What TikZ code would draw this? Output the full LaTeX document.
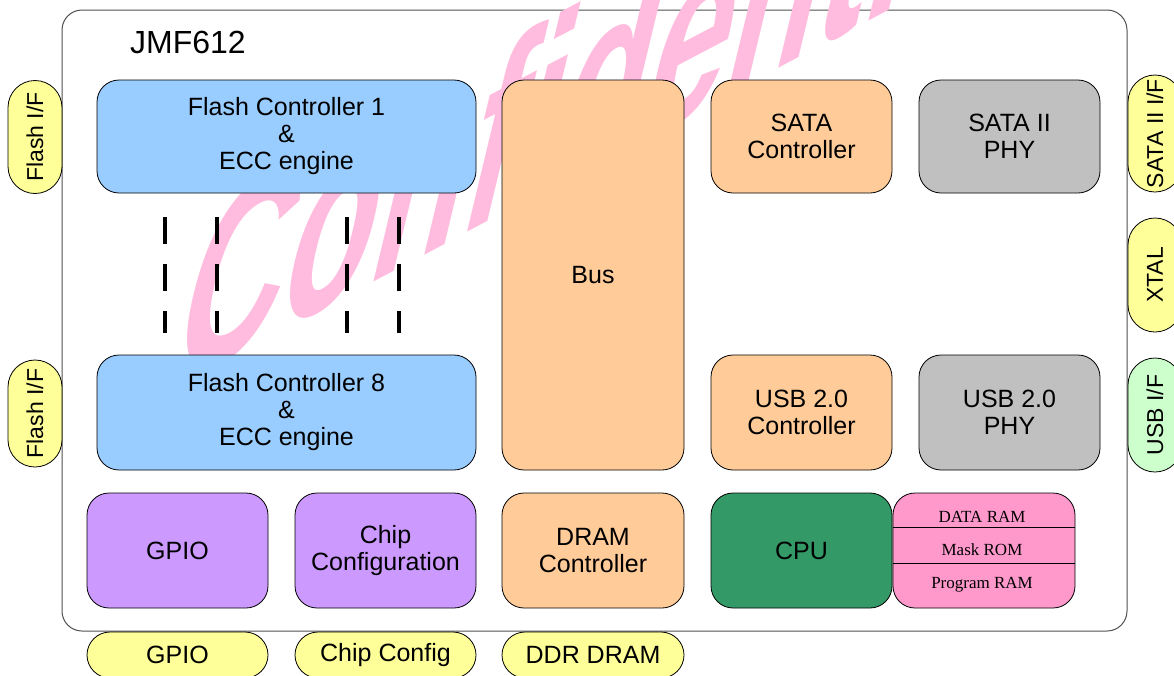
\documentclass[tikz,border=0pt]{standalone}
\usepackage{fontspec}
\setmainfont{Liberation Sans}
\newfontfamily\ramserif{Liberation Serif}
\newcommand\myfs{\fontsize{25}{27}\selectfont}
\newcommand\sidefs{\fontsize{23}{25}\selectfont}
\definecolor{flashblue}{HTML}{99CCFF}
\definecolor{ctrlorange}{HTML}{FFCC99}
\definecolor{phygray}{HTML}{C0C0C0}
\definecolor{cfgpurple}{HTML}{CC99FF}
\definecolor{cpugreen}{HTML}{339966}
\definecolor{rampink}{HTML}{FF99CC}
\definecolor{pillyellow}{HTML}{FFFF99}
\definecolor{pillgreen}{HTML}{CCFFCC}
\definecolor{wmpink}{HTML}{FFBCDE}
\definecolor{framegray}{HTML}{505050}
\tikzset{
  blk/.style={draw=black, line width=0.8pt, rounded corners=22pt, align=center, font=\myfs, inner sep=0pt},
  vpill/.style={draw=black, line width=0.8pt, rounded corners=27pt, minimum width=54pt, font=\sidefs, inner sep=0pt},
  hpill/.style={draw=black, line width=0.8pt, rounded corners=23pt, minimum height=46pt, fill=pillyellow, font=\myfs, inner sep=0pt},
  dashcol/.style={line width=3.6pt, dash pattern=on 27pt off 20pt},
  ramtxt/.style={font=\ramserif\fontsize{17}{19}\selectfont, inner sep=0pt}
}
\begin{document}
\begin{tikzpicture}[x=1pt,y=-1pt]
\useasboundingbox (0,0) rectangle (1174,675);
\fill[white] (0,0) rectangle (1174,675);
% outer chip frame
\node[draw=framegray, line width=1pt, rounded corners=20pt, fill=white, minimum width=1065pt, minimum height=621pt, inner sep=0pt] (chip) at (594.5,320.5) {};
\node[anchor=base west, font=\fontsize{32}{32}\selectfont, inner sep=0pt] (title) at (130,53) {JMF612};
% watermark
\begin{scope}[shift={(165,392)}, cm={0.55,0.29,0.24,1,(0,0)}]
\node[transform shape, anchor=base west, inner sep=0pt, text=wmpink, font=\fontsize{270}{270}\selectfont\bfseries] (wm) at (0,0) {Confidential};
\end{scope}
% blocks
\node[blk, fill=flashblue, minimum width=379pt, minimum height=113pt] (fc1) at (286.5,136.5) {Flash Controller 1\\\&\\ECC engine};
\node[blk, fill=flashblue, minimum width=379pt, minimum height=115pt] (fc8) at (286.5,412.5) {Flash Controller 8\\\&\\ECC engine};
\node[blk, fill=ctrlorange, minimum width=182pt, minimum height=390pt] (bus) at (593,275) {Bus};
\node[blk, fill=ctrlorange, minimum width=181pt, minimum height=113pt] (satac) at (801.5,136.5) {SATA\\Controller};
\node[blk, fill=phygray, minimum width=181pt, minimum height=113pt] (sataphy) at (1009.5,136.5) {SATA II\\PHY};
\node[blk, fill=ctrlorange, minimum width=181pt, minimum height=115pt] (usbc) at (801.5,412.5) {USB 2.0\\Controller};
\node[blk, fill=phygray, minimum width=181pt, minimum height=115pt] (usbphy) at (1009.5,412.5) {USB 2.0\\PHY};
\node[blk, fill=cfgpurple, minimum width=181pt, minimum height=115pt] (gpio) at (177.5,550.5) {GPIO};
\node[blk, fill=cfgpurple, minimum width=181pt, minimum height=115pt] (chipcfg) at (385.5,550.5) {Chip\\Configuration};
\node[blk, fill=ctrlorange, minimum width=182pt, minimum height=115pt] (dramc) at (593,550.5) {DRAM\\Controller};
\node[blk, fill=cpugreen, minimum width=181pt, minimum height=115pt] (cpu) at (801.5,550.5) {CPU};
\node[blk, fill=rampink, minimum width=182pt, minimum height=115pt] (ram) at (984,550.5) {};
\draw[line width=0.8pt] (ram.west |- 0,527) -- (ram.east |- 0,527);
\draw[line width=0.8pt] (ram.west |- 0,563) -- (ram.east |- 0,563);
\node[ramtxt] (dataram) at (982,517) {DATA RAM};
\node[ramtxt] (maskrom) at (982,550) {Mask ROM};
\node[ramtxt] (program) at (982,585) {Program RAM};
% dashed continuation marks
\draw[dashcol] (165,217) -- (165,333);
\draw[dashcol] (217,217) -- (217,333);
\draw[dashcol] (347,217) -- (347,333);
\draw[dashcol] (399,217) -- (399,333);
% side interface pills
\node[vpill, fill=pillyellow, minimum height=113pt] (flashif1) at (35,137) {\rotatebox{90}{Flash I/F}};
\node[vpill, fill=pillyellow, minimum height=107pt] (flashif8) at (35,413.5) {\rotatebox{90}{Flash I/F}};
\node[vpill, fill=pillyellow, minimum height=117pt] (sataif) at (1155,133.5) {\rotatebox{90}{SATA II I/F}};
\node[vpill, fill=pillyellow, minimum height=114pt] (xtal) at (1155,275) {\rotatebox{90}{XTAL}};
\node[vpill, fill=pillgreen, minimum height=114pt] (usbif) at (1155,415) {\rotatebox{90}{USB I/F}};
% bottom interface pills
\node[hpill, minimum width=181pt] (gpioif) at (177.5,655) {GPIO};
\node[hpill, minimum width=181pt] (chipif) at (385.5,655) {Chip Config};
\node[hpill, minimum width=182pt] (ddrif) at (593,655) {DDR DRAM};
\end{tikzpicture}
\end{document}
